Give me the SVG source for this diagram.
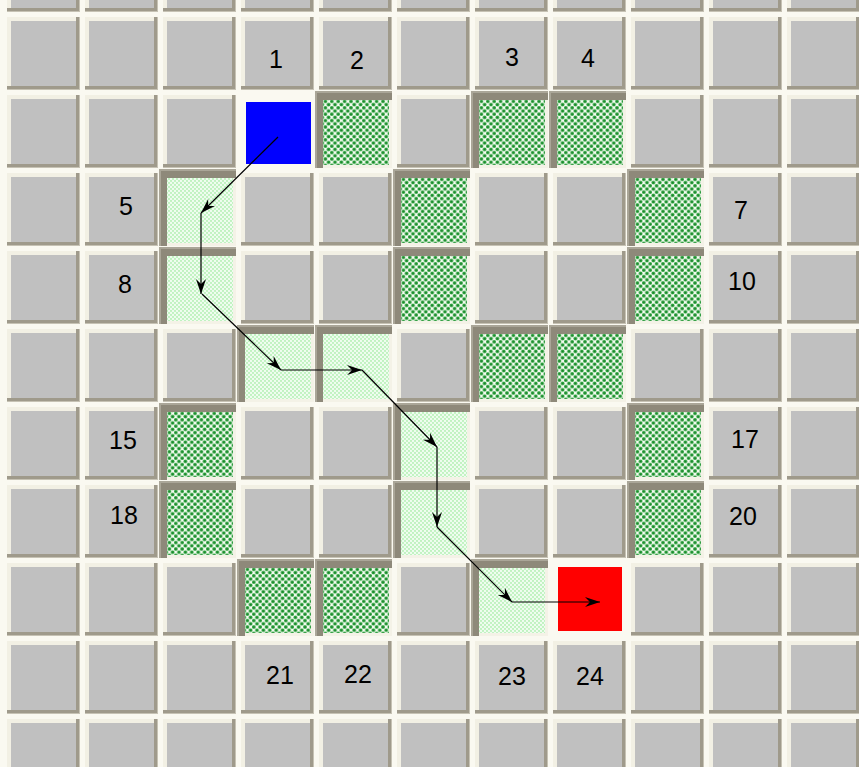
<svg xmlns="http://www.w3.org/2000/svg" xmlns:xlink="http://www.w3.org/1999/xlink" width="859" height="767" viewBox="0 0 859 767">
<style>
.lbl{font-family:"Liberation Sans",Arial,sans-serif;font-size:25px;fill:#000;text-anchor:middle}
.arr{stroke:#000;stroke-width:1.2;fill:none;marker-end:url(#ah)}
</style>
<defs>
<pattern id="pDark" width="6.4" height="6.4" patternUnits="userSpaceOnUse">
<rect width="6.4" height="6.4" fill="#f6fbf2"/>
<g fill="#2ea23f"><circle cx="0" cy="0" r="1.9"/><circle cx="6.4" cy="0" r="1.9"/><circle cx="0" cy="6.4" r="1.9"/><circle cx="6.4" cy="6.4" r="1.9"/><circle cx="3.2" cy="3.2" r="1.9"/></g>
<g fill="#137d24"><circle cx="0" cy="0" r="0.8"/><circle cx="6.4" cy="0" r="0.8"/><circle cx="0" cy="6.4" r="0.8"/><circle cx="6.4" cy="6.4" r="0.8"/><circle cx="3.2" cy="3.2" r="0.8"/></g>
</pattern>
<pattern id="pLight" width="4" height="4" patternUnits="userSpaceOnUse">
<rect width="4" height="4" fill="#f5fff5"/>
<g fill="#c0f2c0"><circle cx="0" cy="0" r="1.15"/><circle cx="4" cy="0" r="1.15"/><circle cx="0" cy="4" r="1.15"/><circle cx="4" cy="4" r="1.15"/><circle cx="2" cy="2" r="1.15"/></g>
</pattern>
<g id="raised">
<rect width="73" height="73" fill="#c6c2b4"/>
<rect width="72" height="72" fill="#9f9a8b"/>
<rect width="69" height="69" fill="#f2f0e4"/>
<rect x="4" y="4" width="65" height="65" fill="#c0c0c0"/>
</g>
<g id="sunk">
<rect x="-4" y="-4" width="77" height="77" fill="#8e897a"/>
<rect x="-4" y="-4" width="77" height="2" fill="#aaa698"/>
<rect x="-4" y="-4" width="2" height="77" fill="#aaa698"/>
<rect x="4" y="5" width="69" height="68" fill="#f4f2e7"/>
</g>
<g id="wall"><use xlink:href="#sunk"/><rect x="4" y="5" width="66" height="65" fill="url(#pDark)"/></g>
<g id="path"><use xlink:href="#sunk"/><rect x="4" y="5" width="66" height="65" fill="url(#pLight)"/></g>
<marker id="ah" markerWidth="16" markerHeight="11" refX="15" refY="5" orient="auto" markerUnits="userSpaceOnUse">
<path d="M0,0 L15,5 L0,10 L5,5 Z" fill="#000"/>
</marker>
</defs>
<rect width="859" height="767" fill="#faf9f1"/>
<g id="grid">
<use xlink:href="#raised" x="7" y="-61"/><use xlink:href="#raised" x="85" y="-61"/><use xlink:href="#raised" x="163" y="-61"/><use xlink:href="#raised" x="241" y="-61"/><use xlink:href="#raised" x="319" y="-61"/><use xlink:href="#raised" x="397" y="-61"/><use xlink:href="#raised" x="475" y="-61"/><use xlink:href="#raised" x="553" y="-61"/><use xlink:href="#raised" x="631" y="-61"/><use xlink:href="#raised" x="709" y="-61"/><use xlink:href="#raised" x="787" y="-61"/>
<use xlink:href="#raised" x="7" y="17"/><use xlink:href="#raised" x="85" y="17"/><use xlink:href="#raised" x="163" y="17"/><use xlink:href="#raised" x="397" y="17"/><use xlink:href="#raised" x="631" y="17"/><use xlink:href="#raised" x="709" y="17"/><use xlink:href="#raised" x="787" y="17"/>
<use xlink:href="#raised" x="7" y="95"/><use xlink:href="#raised" x="85" y="95"/><use xlink:href="#raised" x="163" y="95"/><use xlink:href="#raised" x="397" y="95"/><use xlink:href="#raised" x="631" y="95"/><use xlink:href="#raised" x="709" y="95"/><use xlink:href="#raised" x="787" y="95"/>
<use xlink:href="#raised" x="7" y="173"/><use xlink:href="#raised" x="241" y="173"/><use xlink:href="#raised" x="319" y="173"/><use xlink:href="#raised" x="475" y="173"/><use xlink:href="#raised" x="553" y="173"/><use xlink:href="#raised" x="787" y="173"/>
<use xlink:href="#raised" x="7" y="251"/><use xlink:href="#raised" x="241" y="251"/><use xlink:href="#raised" x="319" y="251"/><use xlink:href="#raised" x="475" y="251"/><use xlink:href="#raised" x="553" y="251"/><use xlink:href="#raised" x="787" y="251"/>
<use xlink:href="#raised" x="7" y="329"/><use xlink:href="#raised" x="85" y="329"/><use xlink:href="#raised" x="163" y="329"/><use xlink:href="#raised" x="397" y="329"/><use xlink:href="#raised" x="631" y="329"/><use xlink:href="#raised" x="709" y="329"/><use xlink:href="#raised" x="787" y="329"/>
<use xlink:href="#raised" x="7" y="407"/><use xlink:href="#raised" x="241" y="407"/><use xlink:href="#raised" x="319" y="407"/><use xlink:href="#raised" x="475" y="407"/><use xlink:href="#raised" x="553" y="407"/><use xlink:href="#raised" x="787" y="407"/>
<use xlink:href="#raised" x="7" y="485"/><use xlink:href="#raised" x="241" y="485"/><use xlink:href="#raised" x="319" y="485"/><use xlink:href="#raised" x="475" y="485"/><use xlink:href="#raised" x="553" y="485"/><use xlink:href="#raised" x="787" y="485"/>
<use xlink:href="#raised" x="7" y="563"/><use xlink:href="#raised" x="85" y="563"/><use xlink:href="#raised" x="163" y="563"/><use xlink:href="#raised" x="397" y="563"/><use xlink:href="#raised" x="631" y="563"/><use xlink:href="#raised" x="709" y="563"/><use xlink:href="#raised" x="787" y="563"/>
<use xlink:href="#raised" x="7" y="641"/><use xlink:href="#raised" x="85" y="641"/><use xlink:href="#raised" x="163" y="641"/><use xlink:href="#raised" x="397" y="641"/><use xlink:href="#raised" x="631" y="641"/><use xlink:href="#raised" x="709" y="641"/><use xlink:href="#raised" x="787" y="641"/>
<use xlink:href="#raised" x="7" y="719"/><use xlink:href="#raised" x="85" y="719"/><use xlink:href="#raised" x="163" y="719"/><use xlink:href="#raised" x="241" y="719"/><use xlink:href="#raised" x="319" y="719"/><use xlink:href="#raised" x="397" y="719"/><use xlink:href="#raised" x="475" y="719"/><use xlink:href="#raised" x="553" y="719"/><use xlink:href="#raised" x="631" y="719"/><use xlink:href="#raised" x="709" y="719"/><use xlink:href="#raised" x="787" y="719"/>
</g>
<g id="n1"><use xlink:href="#raised" x="241" y="17"/><text class="lbl" x="276" y="68">1</text></g>
<g id="n2"><use xlink:href="#raised" x="319" y="17"/><text class="lbl" x="357" y="69">2</text></g>
<g id="n3"><use xlink:href="#raised" x="475" y="17"/><text class="lbl" x="512" y="66">3</text></g>
<g id="n4"><use xlink:href="#raised" x="553" y="17"/><text class="lbl" x="588" y="67">4</text></g>
<g id="n5"><use xlink:href="#raised" x="85" y="173"/><text class="lbl" x="126" y="215">5</text></g>
<g id="n7"><use xlink:href="#raised" x="709" y="173"/><text class="lbl" x="741" y="219">7</text></g>
<g id="n8"><use xlink:href="#raised" x="85" y="251"/><text class="lbl" x="125" y="293">8</text></g>
<g id="n10"><use xlink:href="#raised" x="709" y="251"/><text class="lbl" x="742" y="290">10</text></g>
<g id="n15"><use xlink:href="#raised" x="85" y="407"/><text class="lbl" x="123" y="449">15</text></g>
<g id="n17"><use xlink:href="#raised" x="709" y="407"/><text class="lbl" x="745" y="448">17</text></g>
<g id="n18"><use xlink:href="#raised" x="85" y="485"/><text class="lbl" x="124" y="524">18</text></g>
<g id="n20"><use xlink:href="#raised" x="709" y="485"/><text class="lbl" x="743" y="525">20</text></g>
<g id="n21"><use xlink:href="#raised" x="241" y="641"/><text class="lbl" x="280" y="684">21</text></g>
<g id="n22"><use xlink:href="#raised" x="319" y="641"/><text class="lbl" x="358" y="683">22</text></g>
<g id="n23"><use xlink:href="#raised" x="475" y="641"/><text class="lbl" x="512" y="685">23</text></g>
<g id="n24"><use xlink:href="#raised" x="553" y="641"/><text class="lbl" x="590" y="685">24</text></g>
<g id="start"><rect x="246" y="102" width="65" height="62" fill="#0000ff"/></g>
<g id="goal"><rect x="558" y="567" width="64" height="64" fill="#ff0000"/></g>
<g id="walls">
<use xlink:href="#wall" x="319" y="95"/><use xlink:href="#wall" x="475" y="95"/><use xlink:href="#wall" x="553" y="95"/>
<use xlink:href="#wall" x="397" y="173"/><use xlink:href="#wall" x="631" y="173"/>
<use xlink:href="#wall" x="397" y="251"/><use xlink:href="#wall" x="631" y="251"/>
<use xlink:href="#wall" x="475" y="329"/><use xlink:href="#wall" x="553" y="329"/>
<use xlink:href="#wall" x="163" y="407"/><use xlink:href="#wall" x="631" y="407"/>
<use xlink:href="#wall" x="163" y="485"/><use xlink:href="#wall" x="631" y="485"/>
<use xlink:href="#wall" x="241" y="563"/><use xlink:href="#wall" x="319" y="563"/>
</g>
<g id="route-cells">
<use xlink:href="#path" x="163" y="173"/><use xlink:href="#path" x="163" y="251"/>
<use xlink:href="#path" x="241" y="329"/><use xlink:href="#path" x="319" y="329"/>
<use xlink:href="#path" x="397" y="407"/><use xlink:href="#path" x="397" y="485"/>
<use xlink:href="#path" x="475" y="563"/>
</g>
<g id="connectors">
<line class="arr" x1="278" y1="137" x2="201" y2="213"/>
<line class="arr" x1="201" y1="213" x2="201" y2="294"/>
<line class="arr" x1="202" y1="294" x2="281" y2="370"/>
<line class="arr" x1="281" y1="370" x2="362" y2="370"/>
<line class="arr" x1="362" y1="370" x2="437" y2="447"/>
<line class="arr" x1="437" y1="447" x2="437" y2="527"/>
<line class="arr" x1="437" y1="527" x2="512" y2="602"/>
<line class="arr" x1="512" y1="602" x2="600" y2="602"/>
</g>
</svg>
